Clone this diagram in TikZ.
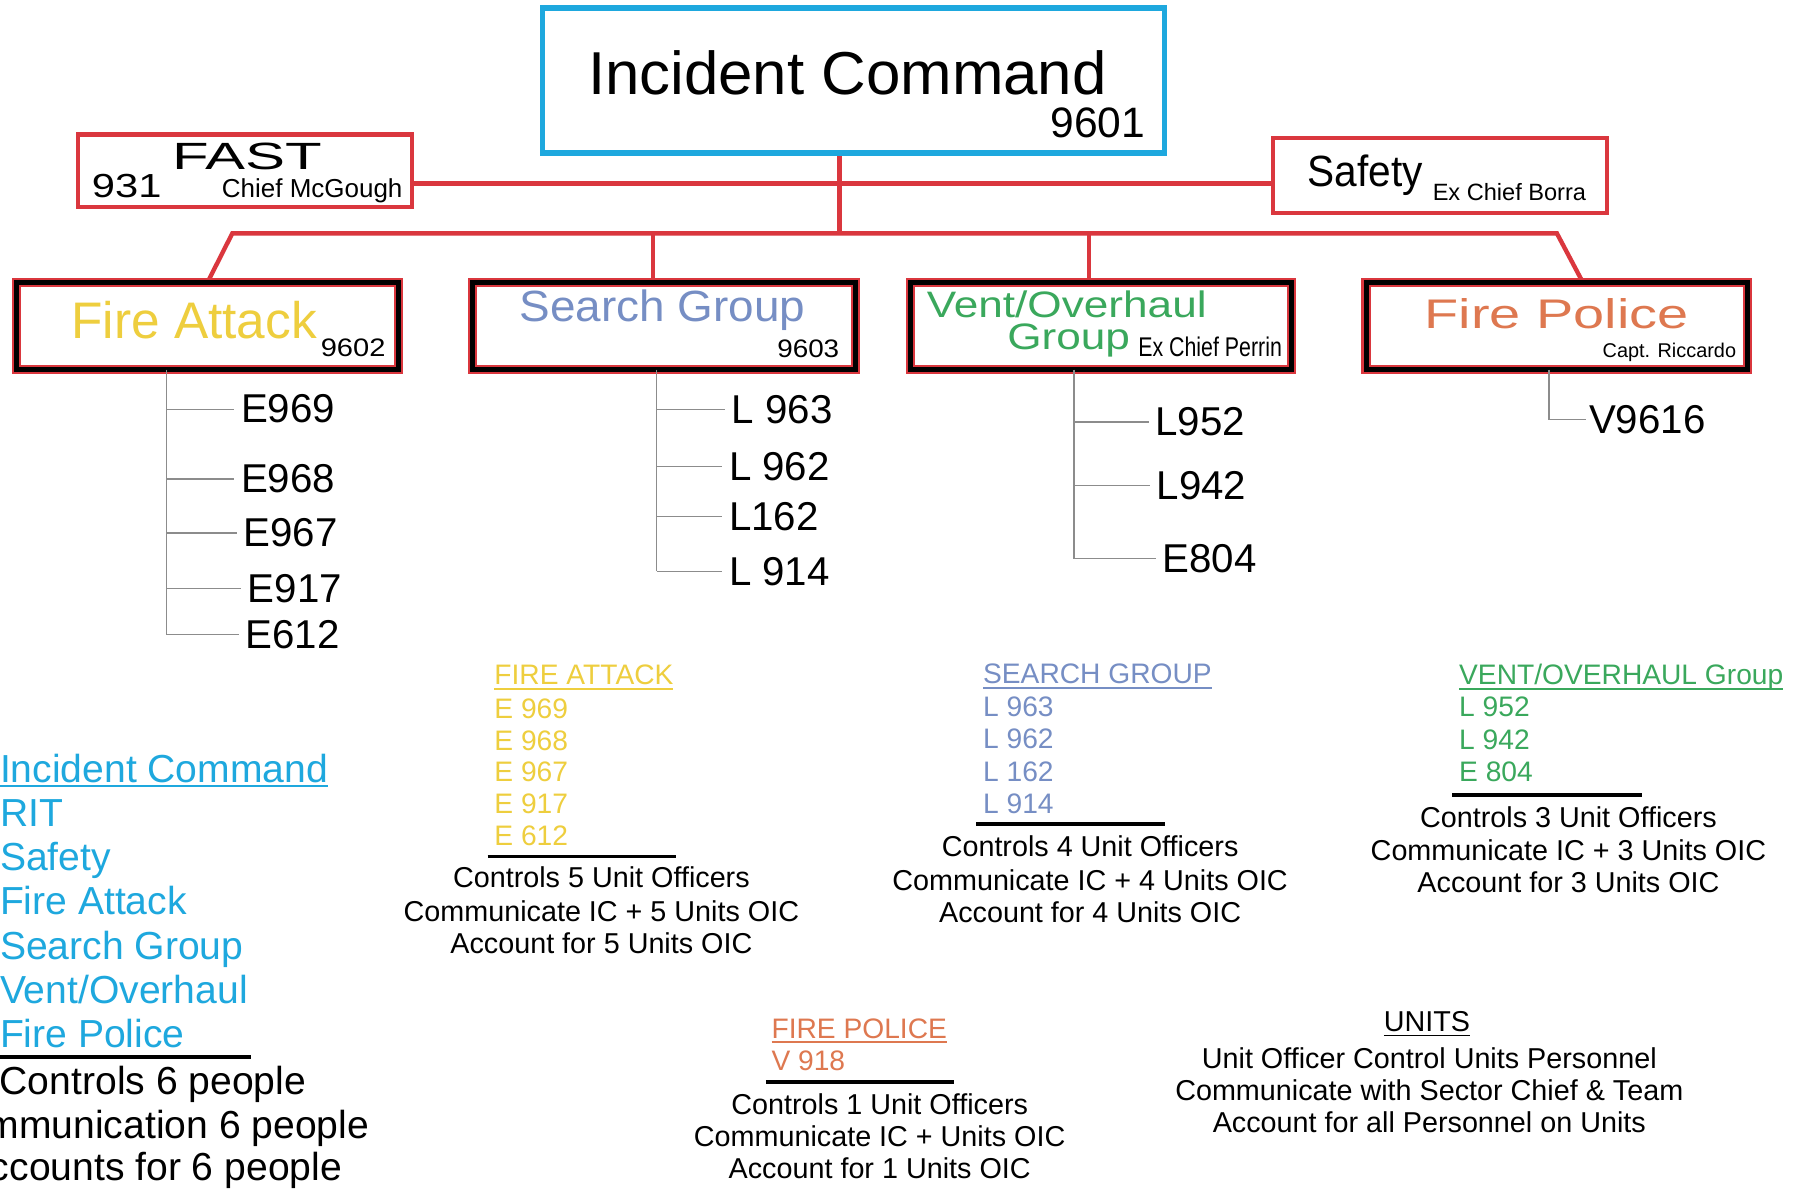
\documentclass[tikz,border=0pt]{standalone}
\usepackage{fontspec}
\setmainfont{Liberation Sans}
\usepackage{graphicx}
\definecolor{cyanIC}{RGB}{30,168,222}
\definecolor{redL}{RGB}{218,55,62}
\definecolor{yel}{RGB}{238,206,62}
\definecolor{sblue}{RGB}{118,142,196}
\definecolor{vgreen}{RGB}{58,168,92}
\definecolor{forange}{RGB}{222,120,80}
\definecolor{treegrey}{RGB}{140,140,140}
\newcommand\fsz[1]{\fontsize{#1}{#1}\selectfont}
\newcommand\hs[2]{\scalebox{#1}[1]{#2}}
\tikzset{
  txt/.style={inner sep=0pt, outer sep=0pt, anchor=base west},
  ctr/.style={inner sep=0pt, outer sep=0pt, anchor=base, font=\fsz{25}},
  redline/.style={draw=redL, line width=3.8pt},
  topbox/.style={draw=redL, line width=3.6pt, fill=white, inner sep=0pt, outer sep=0pt},
  grpbox/.style={draw=redL, double=black, line width=1.8pt, double distance=4.4pt,
    fill=white, minimum height=76pt, inner sep=0pt, outer sep=0pt},
  unitlbl/.style={inner xsep=6pt, inner ysep=0pt, outer sep=0pt, anchor=west, font=\fsz{35}},
  tree/.style={draw=treegrey, line width=1.1pt},
  sepline/.style={draw=black, line width=3pt}
}
\begin{document}
\begin{tikzpicture}[x=1pt,y=-1pt]
\useasboundingbox (0,0) rectangle (1568,1037);
\fill[white] (0,0) rectangle (1568,1037);
\clip (0,0) rectangle (1568,1037);

% ---------- top boxes ----------
\node[draw=cyanIC, line width=4.5pt, fill=white, inner sep=0pt, outer sep=0pt,
      minimum width=541pt, minimum height=126pt] (ic) at (742.5,70) {};
\node[topbox, minimum width=290pt, minimum height=63pt] (fast) at (213,148.5) {};
\node[topbox, minimum width=290.6pt, minimum height=65.2pt] (safety) at (1252.3,152.9) {};

% ---------- group boxes ----------
\node[grpbox, minimum width=332pt] (fa) at (180.5,283.5) {};
\node[grpbox, minimum width=333pt] (sg) at (577.75,283.5) {};
\node[grpbox, minimum width=332pt] (vo) at (957.5,283.5) {};
\node[grpbox, minimum width=332pt] (fp) at (1354,283.5) {};

% ---------- red connectors ----------
\coordinate (hub) at (730,203);
\coordinate (midrow) at (730,159.5);
\coordinate (busL) at (202,203);
\coordinate (busR) at (1354,203);
\coordinate (busS) at (568,203);
\coordinate (busV) at (947,203);
\draw[redline] (hub |- ic.south) -- (hub);
\draw[redline] (fast.east |- midrow) -- (safety.west |- midrow);
\draw[redline, line join=miter] (fa.north) -- (busL) -- (busR) -- ([xshift=22.5pt]fp.north);
\draw[redline] (busS) -- (busS |- sg.north);
\draw[redline] (busV) -- (busV |- vo.north);
% redraw box borders on top of connector ends
\node[draw=cyanIC, line width=4.5pt, inner sep=0pt, outer sep=0pt,
      minimum width=541pt, minimum height=126pt] (icb) at (ic) {};
\node[draw=redL, line width=3.6pt, inner sep=0pt, minimum width=290pt, minimum height=63pt] (fastb) at (fast) {};
\node[draw=redL, line width=3.6pt, inner sep=0pt, minimum width=290.6pt, minimum height=65.2pt] (safetyb) at (safety) {};
\node[grpbox, fill=none, minimum width=332pt] (fab) at (fa) {};
\node[grpbox, fill=none, minimum width=333pt] (sgb) at (sg) {};
\node[grpbox, fill=none, minimum width=332pt] (vob) at (vo) {};
\node[grpbox, fill=none, minimum width=332pt] (fpb) at (fp) {};

% ---------- box texts ----------
\node[inner sep=0pt, anchor=base, font=\fsz{52.7}] (ictxt) at (737,82.6) {\hs{1.02}{Incident Command}};
\node[inner sep=0pt, anchor=base east, font=\fsz{37}] (icnum) at (996,120) {9601};

\node[txt, font=\fsz{33}] (fasttxt) at (150,147) {\hs{1.58}{FAST}};
\node[txt, font=\fsz{29}] (fastnum) at (80,172) {\hs{1.25}{931}};
\node[txt, font=\fsz{22.6}] (fastchief) at (193,172) {Chief McGough};

\node[txt, font=\fsz{38}] (saftxt) at (1137,162.4) {\hs{0.93}{Safety}};
\node[txt, font=\fsz{20.5}] (safchief) at (1246,174.5) {Ex Chief Borra};

\node[txt, font=\fsz{44.7}, text=yel] (fatxt) at (62,294.5) {Fire Attack};
\node[txt, font=\fsz{22}] (fanum) at (279,310) {\hs{1.15}{9602}};

\node[txt, font=\fsz{38}, text=sblue] (sgtxt) at (452,280) {\hs{1.05}{Search Group}};
\node[txt, font=\fsz{22}] (sgnum) at (676,310.7) {\hs{1.1}{9603}};

\node[txt, font=\fsz{32}, text=vgreen] (votxt) at (806,276) {\hs{1.2}{Vent/Overhaul}};
\node[txt, font=\fsz{32}, text=vgreen] (votxt2) at (876,304) {\hs{1.2}{Group}};
\node[txt, font=\fsz{23.5}] (vochief) at (990,310) {\hs{0.79}{Ex Chief Perrin}};

\node[txt, font=\fsz{36}, text=forange] (fptxt) at (1239,286) {\hs{1.35}{Fire Police}};
\node[inner sep=0pt, anchor=base east, font=\fsz{17.3}] (fpchief) at (1510,311) {Capt. Riccardo};

% ---------- unit trees ----------
% Fire Attack
\foreach \t/\x/\y [count=\i] in {E969/203.6/355.8, E968/203.6/416.5, E967/206/463.6, E917/209.6/511.6, E612/207.6/552}
  \node[unitlbl] (fau\i) at (\x,\y) {\t};
\coordinate (fatr) at (145,552);
\draw[tree] (fatr |- fa.south) -- (fatr);
\foreach \i in {1,...,5} \draw[tree] (fatr |- fau\i.west) -- (fau\i.west);
% Search
\foreach \t/\x/\y [count=\i] in {L 963/630.5/356, L 962/628/405.8, L162/628/449, L 914/628/497}
  \node[unitlbl] (sgu\i) at (\x,\y) {\t};
\coordinate (sgtr) at (571,497);
\draw[tree] (sgtr |- sg.south) -- (sgtr);
\foreach \i in {1,...,4} \draw[tree] (sgtr |- sgu\i.west) -- (sgu\i.west);
% Vent
\foreach \t/\x/\y [count=\i] in {L952/998.8/367, L942/1000/422.4, E804/1005/486}
  \node[unitlbl] (vou\i) at (\x,\y) {\t};
\coordinate (votr) at (934,486);
\draw[tree] (votr |- vo.south) -- (votr);
\foreach \i in {1,...,3} \draw[tree] (votr |- vou\i.west) -- (vou\i.west);
% Fire Police
\node[unitlbl, inner xsep=3pt] (fpu1) at (1379,365) {V9616};
\coordinate (fptr) at (1347,365);
\draw[tree] (fptr |- fp.south) -- (fptr) -- (fpu1.west);

% ---------- left list ----------
\foreach \t/\y [count=\i] in {Incident Command/680.5, RIT/719, Safety/757, Fire Attack/795.5, Search Group/834, {Vent/Overhaul}/872.5, Fire Police/911}
  \node[txt, font=\fsz{34}, text=cyanIC] (ll\i) at (0,\y) {\t};
\draw[cyanIC, line width=2.2pt] ([yshift=-3pt]ll1.base west) -- ([yshift=-3pt]ll1.base east);
\draw[sepline, line width=3.5pt] (0,919) -- (218,919);
\node[ctr, font=\fsz{34}] (lc1) at (133,952) {Controls 6 people};
\node[ctr, font=\fsz{34}] (lc2) at (133,990.5) {Communication 6 people};
\node[ctr, font=\fsz{34}] (lc3) at (133,1027) {Accounts for 6 people};

% ---------- FIRE ATTACK block ----------
\node[txt, font=\fsz{24.5}, text=yel] (fat) at (430,595.5) {FIRE ATTACK};
\draw[yel, line width=1.6pt] ([yshift=-3.5pt]fat.base west) -- ([yshift=-3.5pt]fat.base east);
\foreach \t/\y [count=\i] in {E 969/624.5, E 968/652.5, E 967/680, E 917/707.5, E 612/735.5}
  \node[txt, font=\fsz{24.5}, text=yel] (fal\i) at (430,\y) {\t};
\draw[sepline] (424,745) -- (588,745);
\node[ctr] (fac1) at (523,772) {Controls 5 Unit Officers};
\node[ctr] (fac2) at (523,801) {Communicate IC + 5 Units OIC};
\node[ctr] (fac3) at (523,829) {Account for 5 Units OIC};

% ---------- SEARCH GROUP block ----------
\node[txt, font=\fsz{24.5}, text=sblue] (sgt) at (855,594.5) {SEARCH GROUP};
\draw[sblue, line width=1.6pt] ([yshift=-3.5pt]sgt.base west) -- ([yshift=-3.5pt]sgt.base east);
\foreach \t/\y [count=\i] in {L 963/623, L 962/651, L 162/680, L 914/707.5}
  \node[txt, font=\fsz{24.5}, text=sblue] (sgl\i) at (855,\y) {\t};
\draw[sepline] (849,716.5) -- (1013,716.5);
\node[ctr] (sgc1) at (948,745) {Controls 4 Unit Officers};
\node[ctr] (sgc2) at (948,774) {Communicate IC + 4 Units OIC};
\node[ctr] (sgc3) at (948,802) {Account for 4 Units OIC};

% ---------- VENT/OVERHAUL block ----------
\node[txt, font=\fsz{24.5}, text=vgreen] (vot) at (1269,595.5) {VENT/OVERHAUL Group};
\draw[vgreen, line width=1.6pt] ([yshift=-3.5pt]vot.base west) -- ([yshift=-3.5pt]vot.base east);
\foreach \t/\y [count=\i] in {L 952/623.5, L 942/651.5, E 804/680}
  \node[txt, font=\fsz{24.5}, text=vgreen] (vol\i) at (1269,\y) {\t};
\draw[sepline] (1263,691.5) -- (1428,691.5);
\node[ctr] (voc1) at (1364,720) {Controls 3 Unit Officers};
\node[ctr] (voc2) at (1364,748.5) {Communicate IC + 3 Units OIC};
\node[ctr] (voc3) at (1364,776.5) {Account for 3 Units OIC};

% ---------- FIRE POLICE block ----------
\node[txt, font=\fsz{24.5}, text=forange] (fpt) at (671,903) {FIRE POLICE};
\draw[forange, line width=1.6pt] ([yshift=-3.5pt]fpt.base west) -- ([yshift=-3.5pt]fpt.base east);
\node[txt, font=\fsz{24.5}, text=forange] (fpl1) at (671,931) {V 918};
\draw[sepline] (666,941) -- (830,941);
\node[ctr] (fpc1) at (765,969) {Controls 1 Unit Officers};
\node[ctr] (fpc2) at (765,997) {Communicate IC + Units OIC};
\node[ctr] (fpc3) at (765,1025) {Account for 1 Units OIC};

% ---------- UNITS block ----------
\node[ctr] (unt) at (1241,897) {UNITS};
\draw[black, line width=1.6pt] ([yshift=-3.5pt]unt.base west) -- ([yshift=-3.5pt]unt.base east);
\node[ctr] (unc1) at (1243,929) {Unit Officer Control Units Personnel};
\node[ctr] (unc2) at (1243,957) {Communicate with Sector Chief \& Team};
\node[ctr] (unc3) at (1243,985) {Account for all Personnel on Units};
\end{tikzpicture}
\end{document}
